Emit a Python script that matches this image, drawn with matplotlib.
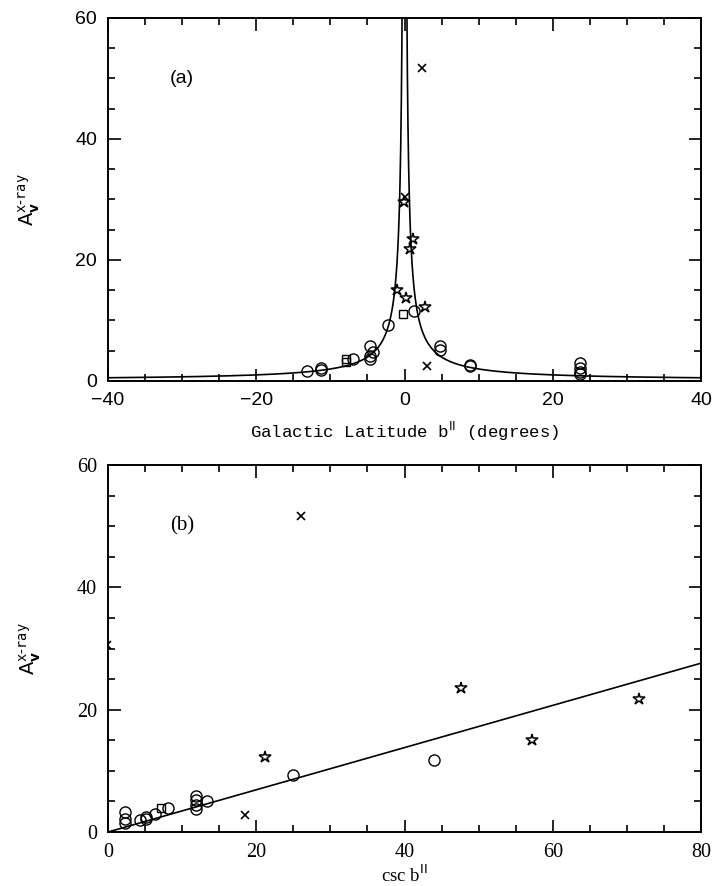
import numpy as np
import matplotlib
matplotlib.use("Agg")
import matplotlib.pyplot as plt
from matplotlib.ticker import MultipleLocator

# ---------------- data: panel (a) ----------------
a_circ_b = [-13.1, -11.2, -11.2, -6.9, -4.7, -4.7, -4.7, -4.3, -2.2, 1.3, 4.8, 4.8, 8.9, 8.9, 23.7, 23.7, 23.7, 23.7]
a_circ_A = [1.7, 2.1, 1.8, 3.6, 5.8, 4.1, 3.6, 4.8, 9.2, 11.6, 5.8, 5.1, 2.7, 2.4, 2.9, 2.2, 1.5, 1.1]
a_star_b = [-0.1, 1.2, 0.8, -1.0, 0.2, 2.7]
a_star_A = [29.6, 23.5, 21.8, 15.0, 13.7, 12.2]
a_sq_b = [-0.2, -7.9, -7.9]
a_sq_A = [11.1, 3.6, 3.1]
a_x_b = [2.3, 0.1, 3.0]
a_x_A = [51.8, 30.4, 2.5]

# ---------------- data: panel (b) ----------------
b_circ_c = [2.3, 2.3, 2.3, 4.3, 5.1, 5.1, 6.4, 8.1, 11.9, 11.9, 11.9, 11.9, 13.3, 24.9, 44.0]
b_circ_A = [3.2, 2.2, 1.5, 1.9, 2.45, 2.2, 2.9, 3.9, 5.9, 5.2, 4.4, 3.8, 5.0, 9.3, 11.7]
b_star_c = [21.2, 47.6, 57.2, 71.6]
b_star_A = [12.3, 23.6, 15.0, 21.8]
b_sq_c = [7.2]
b_sq_A = [3.9]
b_x_c = [26.1, 18.5, -0.15]
b_x_A = [51.7, 2.7, 30.5]

# fitted slope of A vs csc b
slope = 0.345

W, H = 728, 886
fig = plt.figure(figsize=(W / 100, H / 100), dpi=100)
ax1 = fig.add_axes([108 / W, 1 - 381 / H, 593 / W, 363 / H])
ax2 = fig.add_axes([108 / W, 1 - 832 / H, 593 / W, 367 / H])

mk = dict(linestyle='none', color='black')
ylab = r'A$_{\mathbf{v}}^{\mathtt{x}\text{-}\mathtt{ray}}$'

def style(ax, xmaj, xmin):
    ax.xaxis.set_major_locator(MultipleLocator(xmaj))
    ax.xaxis.set_minor_locator(MultipleLocator(xmin))
    ax.yaxis.set_major_locator(MultipleLocator(20))
    ax.yaxis.set_minor_locator(MultipleLocator(5))
    ax.tick_params(which='both', direction='in', top=True, right=True, width=1.2, color='black')
    ax.tick_params(which='major', length=9, pad=8)
    ax.tick_params(which='minor', length=5)
    for s in ax.spines.values():
        s.set_linewidth(1.4)

# ---------- panel (a) ----------
bn = np.linspace(-40, -0.01, 4000)
bp = np.linspace(0.01, 40, 4000)
ax1.plot(bn, slope / np.abs(np.sin(np.radians(bn))), color='black', lw=1.2)
ax1.plot(bp, slope / np.abs(np.sin(np.radians(bp))), color='black', lw=1.2)
ax1.plot(a_circ_b, a_circ_A, marker='o', ms=8, mfc='none', mew=1.0, **mk)
ax1.plot(a_star_b, a_star_A, marker='*', ms=9, mfc='none', mew=1.1, **mk)
ax1.plot(a_sq_b, a_sq_A, marker='s', ms=6, mfc='none', mew=1.0, **mk)
ax1.plot(a_x_b, a_x_A, marker='x', ms=6, mew=1.2, **mk)
ax1.set_xlim(-40, 40)
ax1.set_ylim(0, 60)
style(ax1, 20, 5)
for lab in ax1.get_xticklabels() + ax1.get_yticklabels():
    lab.set_family('Liberation Sans')
    lab.set_fontsize(14)
ax1.set_xlabel(r'Galactic Latitude b$^{\mathrm{II}}$ (degrees)', family='Liberation Mono', fontsize=12.5, labelpad=8)
ax1.set_ylabel(ylab, fontsize=14, labelpad=24, rotation=90)
ax1.text(-30, 50, '(a)', family='Liberation Sans', fontsize=14, ha='center', va='center')

# ---------- panel (b) ----------
cx = np.array([0.0, 80.0])
ax2.plot(cx, slope * cx, color='black', lw=1.2)
ax2.plot(b_circ_c, b_circ_A, marker='o', ms=8, mfc='none', mew=1.0, **mk)
ax2.plot(b_star_c, b_star_A, marker='*', ms=9, mfc='none', mew=1.1, **mk)
ax2.plot(b_sq_c, b_sq_A, marker='s', ms=6, mfc='none', mew=1.0, **mk)
ax2.plot(b_x_c, b_x_A, marker='x', ms=6, mew=1.2, **mk)
ax2.set_xlim(0, 80)
ax2.set_ylim(0, 60)
style(ax2, 20, 5)
for lab in ax2.get_xticklabels() + ax2.get_yticklabels():
    lab.set_family('Liberation Serif')
    lab.set_fontsize(14.5)
ax2.set_xlabel(r'csc b$^{\mathrm{II}}$', family='Liberation Serif', fontsize=13.5, labelpad=2)
ax2.set_ylabel(ylab, fontsize=14, labelpad=24, rotation=90)
ax2.text(10, 50, '(b)', family='Liberation Serif', fontsize=15, ha='center', va='center')

fig.savefig('out.png', dpi=100)
